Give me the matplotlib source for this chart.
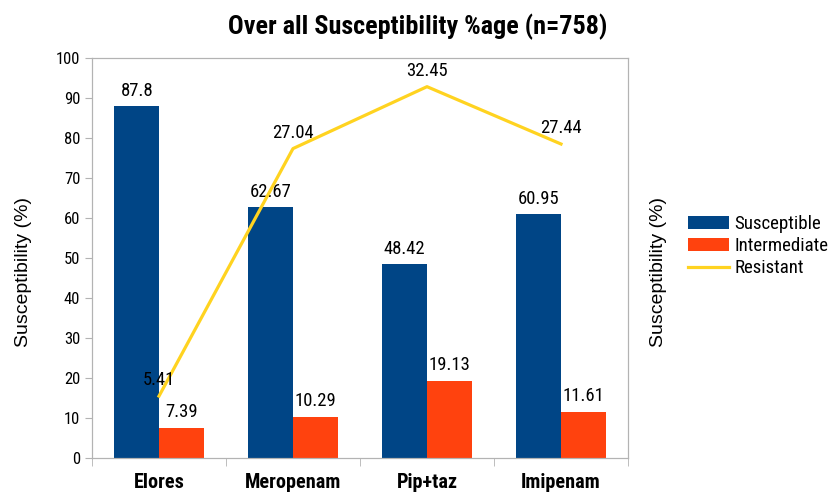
import matplotlib
matplotlib.use("Agg")
import matplotlib.pyplot as plt
from matplotlib import font_manager
import numpy as np
from matplotlib.ticker import FixedLocator

categories = ['Elores', 'Meropenam', 'Pip+taz', 'Imipenam']
susceptible = [87.8, 62.67, 48.42, 60.95]
intermediate = [7.39, 10.29, 19.13, 11.61]
resistant = [5.41, 27.04, 32.45, 27.44]
series_names = ['Susceptible', 'Intermediate', 'Resistant']
y_ticks = [0, 10, 20, 30, 40, 50, 60, 70, 80, 90, 100]

available = {f.name for f in font_manager.fontManager.ttflist}
narrow_candidates = ['Roboto Condensed', 'Liberation Sans Narrow', 'DejaVu Sans Condensed']
narrow = next((n for n in narrow_candidates if n in available), None)
FONT = ['Liberation Sans', 'DejaVu Sans']
if narrow:
    NFONT = [narrow, 'Liberation Sans', 'DejaVu Sans']
    sz = dict(tick=12.0, xtick=14.6, val=13.4, title=18.8, leg=13.6)
else:
    NFONT = FONT
    sz = dict(tick=10.8, xtick=12.2, val=11.8, title=15.9, leg=12.5)

GREY = '#b3b3b3'
BLUE = '#004586'
ORANGE = '#FF420E'
YELLOW = '#FFD320'

fig = plt.figure(figsize=(8.3, 4.93), dpi=100)
ax = fig.add_axes([92/830, 35/493, 536/830, 400.5/493])
x = np.arange(len(categories))
w = 0.333
b1 = ax.bar(x - w/2, susceptible, w, color=BLUE, label=series_names[0], zorder=2)
b2 = ax.bar(x + w/2, intermediate, w, color=ORANGE, label=series_names[1], zorder=2)
ax.set_xlim(-0.5, len(categories) - 0.5)
ax.set_ylim(0, 100)
ax.set_yticks(y_ticks)
ax.set_yticklabels([str(t) for t in y_ticks], family=NFONT, fontsize=sz['tick'])
ax.tick_params(axis='y', length=5, color=GREY, pad=3.5)
ax.set_xticks(x)
ax.set_xticklabels(categories, family=NFONT, fontsize=sz['xtick'], fontweight='bold')
ax.tick_params(axis='x', which='major', length=0, pad=11)
ax.xaxis.set_minor_locator(FixedLocator(np.arange(-0.5, len(categories), 1.0)))
ax.tick_params(axis='x', which='minor', length=6, color=GREY, direction='out')
for s in ax.spines.values():
    s.set_color(GREY)
ax.set_ylabel('Susceptibility (%)', family=FONT, fontsize=14, va='center', ha='center')
ax.yaxis.set_label_coords(-0.1287, 0.4644)

for xi, v in zip(x - w/2, susceptible):
    ax.annotate(f'{v:g}', (xi, v), xytext=(0, 11), textcoords='offset points',
                ha='center', va='center', family=NFONT, fontsize=sz['val'])
for xi, v in zip(x + w/2, intermediate):
    ax.annotate(f'{v:g}', (xi, v), xytext=(0, 11.5), textcoords='offset points',
                ha='center', va='center', family=NFONT, fontsize=sz['val'])

ax2 = ax.twinx()
ln, = ax2.plot(x, resistant, color=YELLOW, lw=2.3, label=series_names[2], zorder=3)
ax2.set_ylim(0, 35)
ax2.set_yticks([])
for s in ax2.spines.values():
    s.set_color(GREY)
ax2.set_ylabel('Susceptibility (%)', family=FONT, fontsize=14, va='center', ha='center',
               rotation=90)
ax2.yaxis.set_label_coords(1.0578, 0.4644)
for xi, v in zip(x, resistant):
    ax2.annotate(f'{v:g}', (xi, v), xytext=(0, 11.5), textcoords='offset points',
                 ha='center', va='center', family=NFONT, fontsize=sz['val'])

fig.text(418/830, 1 - 27/493, 'Over all Susceptibility %age (n=758)', ha='center', va='center',
         family=NFONT, fontsize=sz['title'], fontweight='bold')

legpx = sz['leg'] * 100 / 72
fig.legend([b1, b2, ln], series_names, loc='center left',
           bbox_to_anchor=(688/830, 1 - 246/493), frameon=False,
           prop={'family': NFONT, 'size': sz['leg']}, borderpad=0, handlelength=41 / legpx,
           handletextpad=5 / legpx, labelspacing=0.22, borderaxespad=0)

fig.savefig('out.png', dpi=100)
